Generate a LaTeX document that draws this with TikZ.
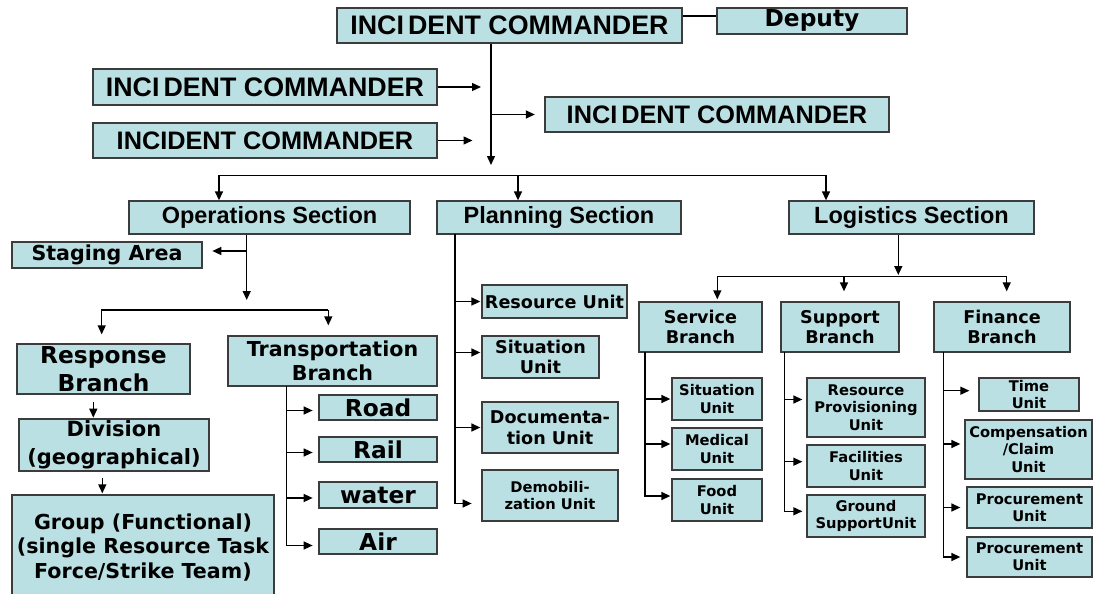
\documentclass[tikz,border=0pt]{standalone}
\usepackage{fontspec}
\setmainfont{Liberation Sans}
\newfontfamily\verd{DejaVu Sans}
\usetikzlibrary{arrows.meta}
\definecolor{boxfill}{HTML}{BBE0E3}
\definecolor{boxline}{HTML}{3C3C3C}
\tikzset{
  box/.style={draw=boxline, fill=boxfill, line width=1.3pt, inner sep=0pt, align=center},
  sz/.style 2 args={minimum width=#1pt, minimum height=#2pt},
  cmd/.style={box, font=\bfseries\fontsize{#1}{30}\selectfont},
  cmd/.default=25.3,
  sect/.style={box, font=\bfseries\fontsize{23.5}{28}\selectfont},
  lbig/.style={box, font=\verd\bfseries\fontsize{23.3}{28}\selectfont},
  lmid/.style={box, font=\verd\bfseries\fontsize{20.6}{24.5}\selectfont},
  lsmall/.style={box, font=\verd\bfseries\fontsize{17.6}{20.8}\selectfont},
  ltiny/.style={box, font=\verd\bfseries\fontsize{14.7}{17.4}\selectfont},
  link/.style={line width=1.4pt},
  arr/.style={link, -{Triangle[length=9pt,width=8pt]}},
}
\begin{document}
\begin{tikzpicture}[x=1pt, y=-1pt]
    \clip (0,0) rectangle (1093,594);

    % Command staff
    \node[cmd=26.8, sz={345}{35}] (ic) at (509.5,25.5) {INCI\kern4pt DENT COMMANDER};
    \node[lbig, sz={190}{26}] (deputy) at (812,21) {Deputy};
    \node[cmd=26.8, sz={344}{36}] (icl1) at (265,87) {INCI\kern4pt DENT COMMANDER};
    \node[cmd, sz={344}{35}] (icl2) at (265,140.5) {INCIDENT COMMANDER};
    \node[cmd, sz={344}{35}] (icr) at (717,114.5) {INCI\kern4pt DENT COMMANDER};

    % Sections
    \node[sect, sz={281}{33}] (ops) at (269.5,217.5) {Operations Section};
    \node[sect, sz={244}{33}] (plan) at (559,217.5) {Planning Section};
    \node[sect, sz={245}{33}] (logi) at (911.5,217.5) {Logistics Section};

    % Operations
    \node[lmid, sz={190}{26}] (staging) at (107,255) {Staging Area};
    \node[lbig, sz={173}{50}] (response) at (103.5,369) {Response\\Branch};
    \node[lmid, sz={190}{52}, font=\verd\bfseries\fontsize{21}{28}\selectfont] (division) at (114,445) {Division\\(geographical)};
    \node[lmid, sz={262}{105}] (group) at (143,547.5) {Group (Functional)\\(single Resource Task\\Force/Strike Team)};
    \node[lmid, sz={209}{50}] (transport) at (332.5,361) {Transportation\\Branch};
    \node[lbig, sz={118}{25}] (road) at (378,407.5) {Road};
    \node[lbig, sz={118}{25}] (rail) at (378,449.5) {Rail};
    \node[lbig, sz={118}{26}] (water) at (378,495) {water};
    \node[lbig, sz={118}{25}] (air) at (378,541.5) {Air};

    % Planning
    \node[lsmall, sz={145}{33}] (resunit) at (554.5,301.5) {Resource Unit};
    \node[lsmall, sz={117}{42}] (sitplan) at (540.5,357) {Situation\\Unit};
    \node[lsmall, sz={136}{51}] (docu) at (550,427.5) {Documenta-\\tion Unit};
    \node[ltiny, sz={136}{51}] (demob) at (550,495.5) {Demobili-\\zation Unit};

    % Logistics
    \node[lsmall, sz={123}{50}] (service) at (700.5,327) {Service\\Branch};
    \node[lsmall, sz={118}{50}] (support) at (840,327) {Support\\Branch};
    \node[lsmall, sz={136}{50}] (finance) at (1002,327) {Finance\\Branch};
    \node[ltiny, sz={90}{42}] (sitsvc) at (717,399) {Situation\\Unit};
    \node[ltiny, sz={90}{42}] (medical) at (717,449) {Medical\\Unit};
    \node[ltiny, sz={90}{42}] (food) at (717,500) {Food\\Unit};
    \node[ltiny, sz={118}{59}] (resprov) at (866,407.5) {Resource\\Provisioning\\Unit};
    \node[ltiny, sz={118}{42}] (facil) at (866,466) {Facilities\\Unit};
    \node[ltiny, sz={118}{42}] (ground) at (866,516) {Ground\\SupportUnit};
    \node[ltiny, sz={100}{33}] (time) at (1029,394.5) {Time\\Unit};
    \node[ltiny, sz={127}{59}] (comp) at (1028.5,449.5) {Compensation\\/Claim\\Unit};
    \node[ltiny, sz={125}{41}] (proc1) at (1029.5,507.5) {Procurement\\Unit};
    \node[ltiny, sz={125}{40}] (proc2) at (1029.5,557) {Procurement\\Unit};

    % Chain of command
    \coordinate (icT) at (491,165);
    \draw[link] ([yshift=9.5pt]ic.east) -- ([yshift=9.5pt]ic.east -| deputy.west);
    \draw[arr] (ic.south -| icT) -- (icT);
    \draw[arr, shorten >=10pt] (icl1.east) -- (icl1.east -| icT);
    \draw[arr, shorten >=18.5pt] (icl2.east) -- (icl2.east -| icT);
    \draw[arr, shorten >=9.5pt] (icr.west -| icT) -- (icr.west);

    % To the sections
    \coordinate (bL) at (219,175.4);
    \coordinate (bM) at (518,175.4);
    \coordinate (bR) at (826,175.4);
    \draw[link] (bL) -- (bR);
    \foreach \c in {bL,bM,bR}
        \draw[arr] (\c) -- (\c |- ops.north);

    % Operations links
    \coordinate (opT) at (246.7,300);
    \draw[arr] (ops.south -| opT) -- (opT);
    \draw[arr, shorten >=9.7pt] ([yshift=4pt]staging.east -| opT) -- ([yshift=4pt]staging.east);
    \coordinate (obL) at (101.7,310);
    \coordinate (obR) at (328.3,310);
    \draw[arr, shorten >=9pt] (obR) -- (obL) -- (obL |- response.north);
    \draw[arr, shorten >=10pt] (obR) -- (obR |- transport.north);
    \draw[arr, shorten <=7.7pt, shorten >=0.7pt] ([xshift=-10.2pt]response.south) -- ([xshift=-10.2pt]response.south |- division.north);
    \draw[arr, shorten <=6pt, shorten >=1pt] ([xshift=-11.7pt]division.south) -- ([xshift=-11.7pt]division.south |- group.north);
    \coordinate (trT) at (286.7,386);
    \draw[arr, shorten >=5.7pt] (trT) |- ([yshift=-4pt]air.west);
    \foreach \n in {road,rail,water}
        \draw[arr, shorten >=5.7pt] ([yshift=-3pt]trT |- \n.west) -- ([yshift=-3pt]\n.west);

    % Planning links
    \coordinate (plT) at (455,234);
    \draw[arr, shorten >=9.7pt] (plT) |- ([yshift=-8pt]demob.west);
    \foreach \n in {resunit,docu}
        \draw[arr, shorten >=1pt] (plT |- \n.west) -- (\n.west);
    \draw[arr, shorten >=1pt] ([yshift=4.5pt]plT |- sitplan.west) -- ([yshift=4.5pt]sitplan.west);

    % Logistics links
    \coordinate (lbT) at (898.3,276.7);
    \coordinate (lbL) at (717.3,276.7);
    \coordinate (lbM) at (844,276.7);
    \coordinate (lbR) at (1006.7,276.7);
    \draw[arr, shorten >=1.7pt] (logi.south -| lbT) -- (lbT);
    \draw[link] (lbL) -- (lbR);
    \draw[arr, shorten >=2pt] (lbL) -- (lbL |- service.north);
    \draw[arr, shorten >=10pt] (lbM) -- (lbM |- support.north);
    \draw[arr, shorten >=10pt] (lbR) -- (lbR |- finance.north);

    \coordinate (svT) at (645,352);
    \draw[arr, shorten >=1pt] (svT) |- ([yshift=4pt]food.west);
    \draw[arr, shorten >=1pt] (svT |- sitsvc.west) -- (sitsvc.west);
    \draw[arr, shorten >=1pt] ([yshift=5pt]svT |- medical.west) -- ([yshift=5pt]medical.west);

    \coordinate (spT) at (784.3,352);
    \draw[arr, shorten >=4pt] (spT) |- ([yshift=4.7pt]ground.west);
    \draw[arr, shorten >=4pt] ([yshift=8pt]spT |- resprov.west) -- ([yshift=8pt]resprov.west);
    \draw[arr, shorten >=4pt] ([yshift=4.3pt]spT |- facil.west) -- ([yshift=4.3pt]facil.west);

    \coordinate (fnT) at (943.3,352);
    \draw[arr, shorten >=6pt] (fnT) |- (proc2.west);
    \draw[arr, shorten >=9pt] ([yshift=3.8pt]fnT |- time.west) -- ([yshift=3.8pt]time.west);
    \draw[arr, shorten >=4pt] ([yshift=5.5pt]fnT |- comp.west) -- ([yshift=5.5pt]comp.west);
    \draw[arr, shorten >=6pt] (fnT |- proc1.west) -- (proc1.west);
\end{tikzpicture}
\end{document}
